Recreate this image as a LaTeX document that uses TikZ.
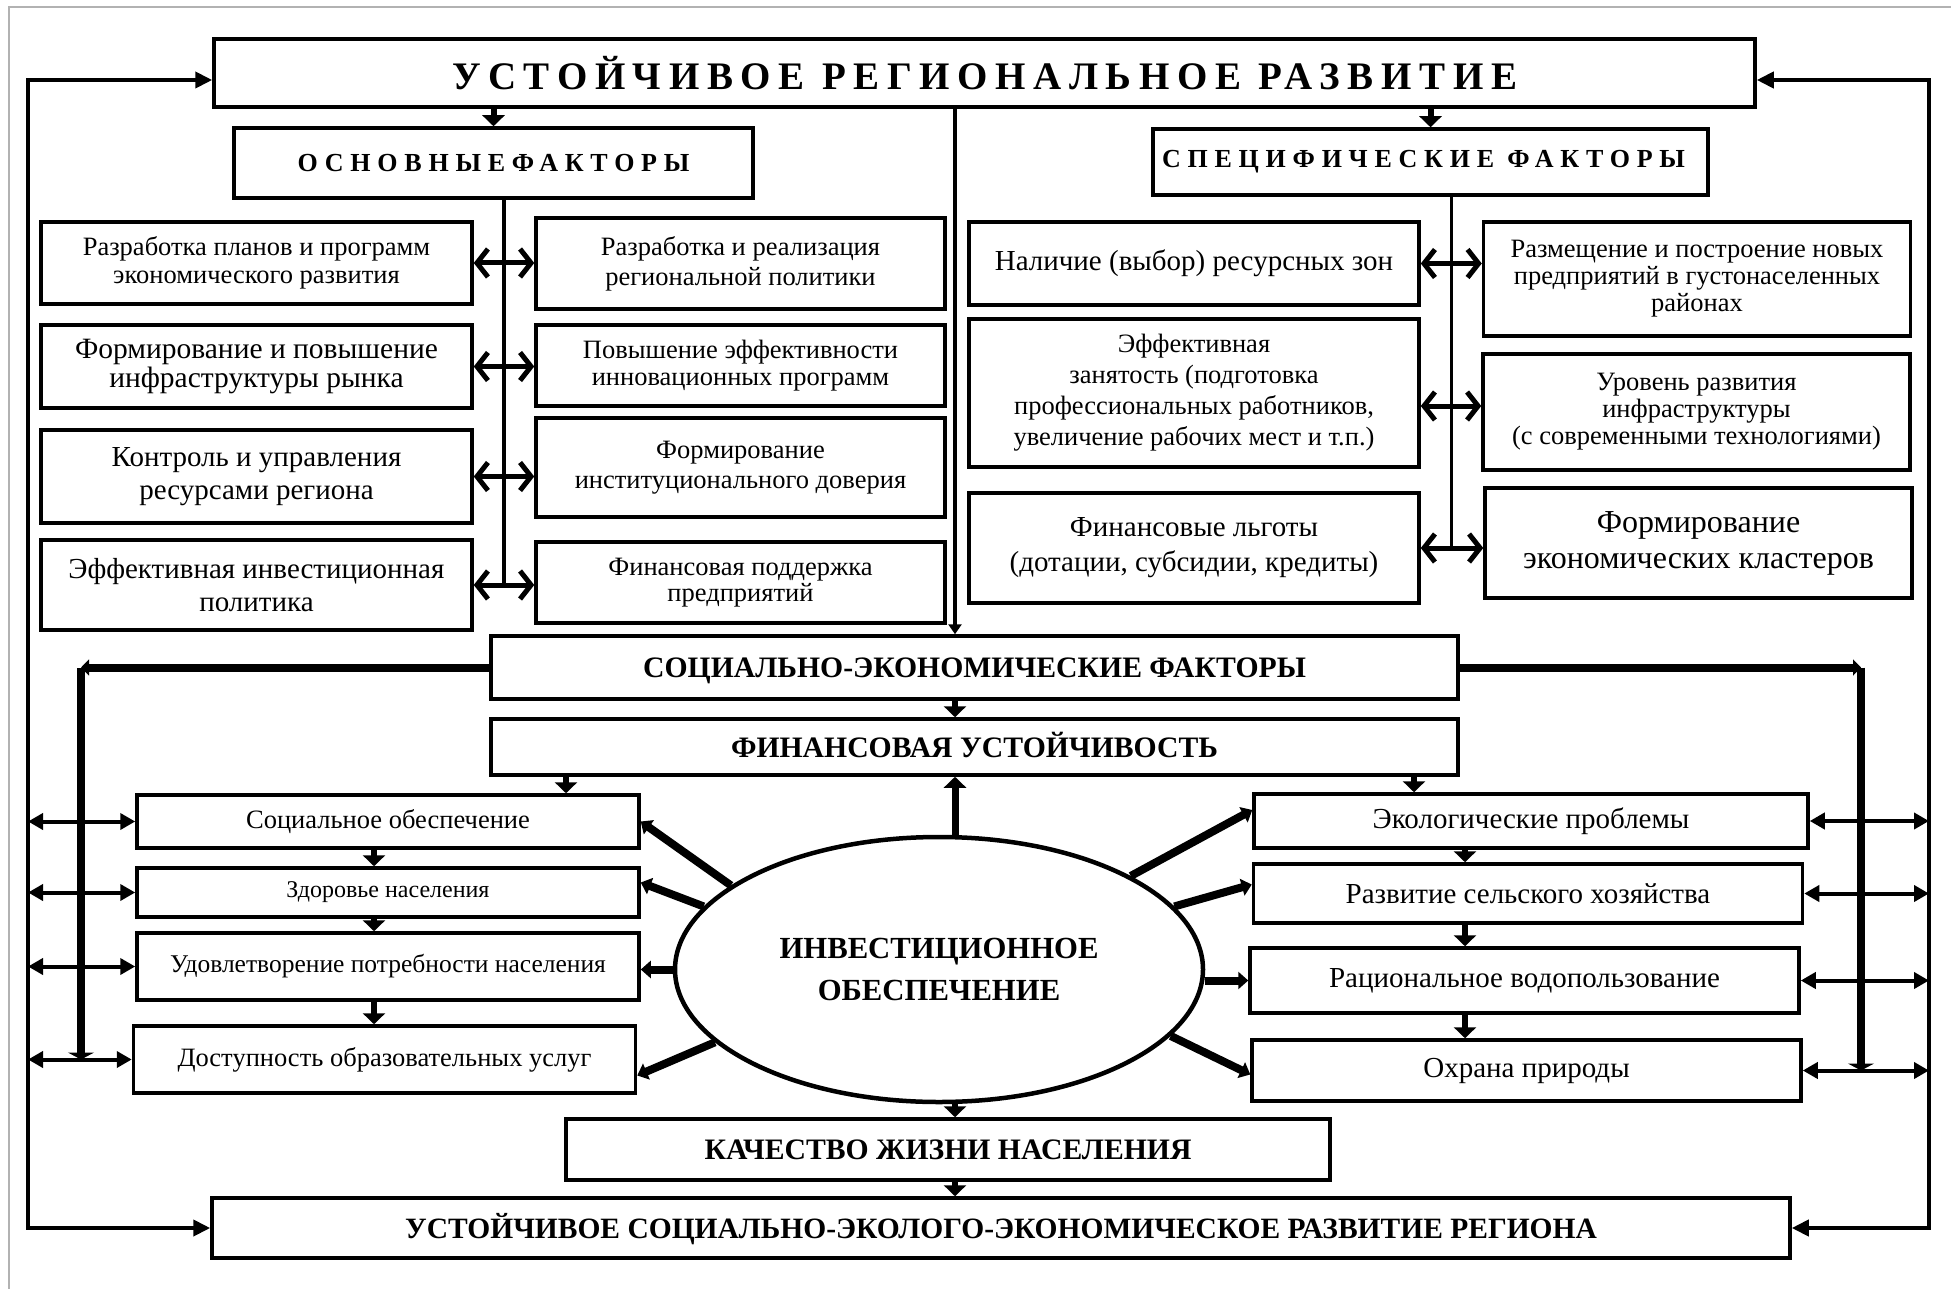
\documentclass[tikz,border=0pt]{standalone}
\usepackage{fontspec}
\setmainfont{Liberation Serif}
\usetikzlibrary{arrows.meta,shapes.geometric,calc}

\newcommand\fs[2]{\fontsize{#1}{#2}\selectfont}

\tikzset{
  box/.style={draw, line width=3.5pt, inner sep=0pt, align=center},
  head/.style={box, text height=20pt, text depth=0pt, font=\bfseries\fs{29.7}{32}},
  dbl/.style={{Straight Barb[length=11pt,width=28pt]}-{Straight Barb[length=11pt,width=28pt]}, line width=5pt},
  side/.style={{Triangle[length=15pt,width=16pt]}-{Triangle[length=15pt,width=16pt]}, line width=4pt},
  link/.style={-{Triangle[length=11pt,width=22pt]}, line width=6pt},
  spoke/.style={-{Triangle[length=10pt,width=17pt]}, line width=8pt},
  bus/.style={line width=8pt},
  fb/.style={{Triangle[length=17pt,width=16pt]}-{Triangle[length=17pt,width=16pt]}, line width=4pt}
}

\begin{document}
\begin{tikzpicture}[x=1pt, y=-1pt]
    \useasboundingbox (0,0) rectangle (1951,1289);
    \draw[gray!60, line width=1.5pt] (9,1289) -- (9,7) -- (1951,7);

    \node[box, minimum width=1541pt, minimum height=68pt,
      font=\bfseries\addfontfeatures{LetterSpace=19.5}\fs{39}{40}] (main) at (984.5,73) {УСТОЙЧИВОЕ РЕГИОНАЛЬНОЕ РАЗВИТИЕ};
    \node[box, minimum width=519pt, minimum height=70pt,
      font=\bfseries\addfontfeatures{LetterSpace=26}\fs{26}{28}] (basic) at (493.5,163) {ОСНОВНЫЕФАКТОРЫ};
    \node[box, minimum width=555pt, minimum height=66pt,
      font=\bfseries\addfontfeatures{LetterSpace=26}\fs{26}{28}] (spec) at (1430.5,162) {СПЕЦИФИЧЕСКИЕ ФАКТОРЫ\hspace*{14pt}};

    \begin{scope}[every node/.style={box, minimum width=431pt}]
    \node[minimum height=82pt, font=\fs{26.5}{28}] (b1) at (256.5,263) {Разработка планов и программ\\экономического развития};
    \node[minimum height=83pt, font=\fs{29.5}{28.5}] (b2) at (256.5,366.5) {Формирование и повышение\\инфраструктуры рынка};
    \node[minimum height=93pt, font=\fs{29}{33}] (b3) at (256.5,476.5) {Контроль и управления\\ресурсами региона};
    \node[minimum height=90pt, font=\fs{29}{33}] (b4) at (256.5,585) {Эффективная инвестиционная\\политика};
    \end{scope}

    \begin{scope}[every node/.style={box, minimum width=409pt, font=\fs{26.5}{30}}]
    \node[minimum height=91pt] (c1) at (740.5,263.5) {Разработка и реализация\\региональной политики};
    \node[minimum height=81pt, font=\fs{26.5}{27}] (c2) at (740.5,365.5) {Повышение эффективности\\инновационных программ};
    \node[minimum height=99pt] (c3) at (740.5,467.5) {Формирование\\институционального доверия};
    \node[minimum height=81pt, font=\fs{26.5}{26.5}] (c4) at (740.5,582.5) {Финансовая поддержка\\предприятий};
    \end{scope}

    \begin{scope}[every node/.style={box, minimum width=450pt}]
    \node[minimum height=83pt, font=\fs{29}{32}] (s1) at (1194,263.5) {Наличие (выбор) ресурсных зон};
    \node[minimum height=148pt, font=\fs{26.5}{31}] (s2) at (1194,393) {Эффективная\\занятость (подготовка\\профессиональных работников,\\увеличение рабочих мест и т.п.)};
    \node[minimum height=110pt, font=\fs{29}{35}] (s3) at (1194,548) {Финансовые льготы\\(дотации, субсидии, кредиты)};
    \end{scope}

    \begin{scope}[every node/.style={box, minimum width=427pt}]
    \node[minimum height=114pt, font=\fs{26.5}{27}] (t1) at (1697,279) {Размещение и построение новых\\предприятий в густонаселенных\\районах};
    \node[minimum height=116pt, font=\fs{26.5}{27}] (t2) at (1696.5,412) {Уровень развития\\инфраструктуры\\(с современными технологиями)};
    \node[minimum height=110pt, font=\fs{32}{36}] (t3) at (1698.5,543) {Формирование\\экономических кластеров};
    \end{scope}

    \node[head, minimum width=967pt, minimum height=63pt] (socec) at (974.5,667.5) {СОЦИАЛЬНО-ЭКОНОМИЧЕСКИЕ ФАКТОРЫ};
    \node[head, minimum width=967pt, minimum height=56pt] (fin) at (974.5,747) {ФИНАНСОВАЯ УСТОЙЧИВОСТЬ};
    \node[draw, ellipse, line width=4.5pt, inner sep=0pt, minimum width=528pt, minimum height=265pt,
      align=center, font=\bfseries\fs{30.7}{42}] (inv) at (939,969.5) {ИНВЕСТИЦИОННОЕ\\ОБЕСПЕЧЕНИЕ};

    \begin{scope}[every node/.style={box, minimum width=502pt, font=\fs{26.5}{30}}]
    \node[minimum height=53pt] (q1) at (388,821.5) {Социальное обеспечение};
    \node[minimum height=49pt, font=\fs{24}{28}] (q2) at (388,892.5) {Здоровье населения};
    \node[minimum height=67pt, font=\fs{25.5}{28}] (q3) at (388,966.5) {Удовлетворение потребности населения};
    \node[minimum height=67pt] (q4) at (384.5,1059.5) {Доступность образовательных услуг};
    \end{scope}

    \begin{scope}[every node/.style={box, minimum width=549pt, font=\fs{29}{32}}]
    \node[minimum width=554pt, minimum height=54pt] (e1) at (1531,821) {Экологические проблемы};
    \node[minimum height=59pt] (e2) at (1528,893.5) {Развитие сельского хозяйства};
    \node[minimum height=65pt] (e3) at (1524.5,980.5) {Рациональное водопользование};
    \node[minimum height=61pt] (e4) at (1526.5,1070.5) {Охрана природы};
    \end{scope}

    \node[head, minimum width=764pt, minimum height=61pt] (life) at (948,1149.5) {КАЧЕСТВО ЖИЗНИ НАСЕЛЕНИЯ};
    \node[head, minimum width=1578pt, minimum height=60pt, font=\bfseries\fs{29.5}{32}] (goal) at (1001,1228) {УСТОЙЧИВОЕ СОЦИАЛЬНО-ЭКОЛОГО-ЭКОНОМИЧЕСКОЕ РАЗВИТИЕ РЕГИОНА};

    \coordinate (ax) at (955,0);
    \coordinate (qx) at (374,0);
    \coordinate (ex) at (1465,0);
    \coordinate (fq) at (566,0);
    \coordinate (fe) at (1414,0);
    \coordinate (sl) at (81,0);
    \coordinate (sr) at (1861,0);
    \coordinate (fl) at (28,600);
    \coordinate (fr) at (1929,600);
    \coordinate (lm) at ($(b1.east)!.5!(c1.west)$);
    \coordinate (rm) at ($(s1.east)!.5!(t1.west)$);

    \draw[link] (main.south -| basic.north) -- (basic.north);
    \draw[link] (main.south -| spec.north) -- (spec.north);
    \draw[line width=3.5pt] (lm |- basic.south) -- (lm |- b4.east);
    \draw[line width=3.5pt] (rm |- spec.south) -- (rm |- s3.east);
    \foreach \i in {1,...,4}
      \draw[dbl] (b\i.east) -- (b\i.east -| c\i.west);
    \draw[dbl] (s1.east) -- (s1.east -| t1.west);
    \draw[dbl] ([yshift=-13pt]s2.east) -- ([yshift=-13pt]s2.east -| t2.west);
    \draw[dbl] (s3.east) -- (s3.east -| t3.west);

    \draw[line width=3.5pt, -{Triangle[length=10pt,width=13pt]}] (main.south -| ax) -- (socec.north -| ax);
    \draw[link] (socec.south -| ax) -- (fin.north -| ax);
    \draw[link] (fin.south -| fq) -- (q1.north -| fq);
    \draw[link] (fin.south -| fe) -- (e1.north -| fe);
    \draw[link, line width=7pt] (inv.north -| ax) -- (fin.south -| ax);
    \draw[link] (inv.south -| ax) -- (life.north -| ax);
    \draw[link] (life.south -| ax) -- (goal.north -| ax);

    \foreach \a/\b in {q1/q2, q2/q3, q3/q4}
      \draw[link] (\a.south -| qx) -- (\b.north -| qx);
    \foreach \a/\b in {e1/e2, e2/e3, e3/e4}
      \draw[link] (\a.south -| ex) -- (\b.north -| ex);

    \draw[spoke] (inv.158) -- (q1.east);
    \draw[spoke] (inv.165) -- ([yshift=10pt]q2.east);
    \draw[spoke] (inv.west) -- (inv.west -| q3.east);
    \draw[spoke] (inv.198) -- ([yshift=-16pt]q4.east);
    \draw[spoke] (inv.26) -- ([yshift=11pt]e1.west);
    \draw[spoke] (inv.15) -- ([yshift=9pt]e2.west);
    \draw[spoke] (e3.west -| inv.east) -- (e3.west);
    \draw[spoke] (inv.344) -- ([yshift=-4pt]e4.west);

    \draw[bus, -{Triangle[length=8pt,width=16pt]}] (socec.west) -- (socec.west -| sl);
    \draw[bus, -{Triangle[length=7pt,width=26pt]}] (socec.west -| sl) -- (q4.west -| sl);
    \draw[bus, -{Triangle[length=8pt,width=16pt]}] (socec.east) -- (socec.east -| sr);
    \draw[bus, -{Triangle[length=7pt,width=26pt]}] (socec.east -| sr) -- (e4.east -| sr);

    \foreach \i in {1,...,4} {
      \draw[side] (fl |- q\i.west) -- (q\i.west);
      \draw[side] (e\i.east) -- (fr |- e\i.east);
    }

    \draw[fb] (goal.west) -| (fl) |- ([yshift=-7pt]main.west);
    \draw[fb] (goal.east) -| (fr) |- ([yshift=-7pt]main.east);
\end{tikzpicture}
\end{document}
